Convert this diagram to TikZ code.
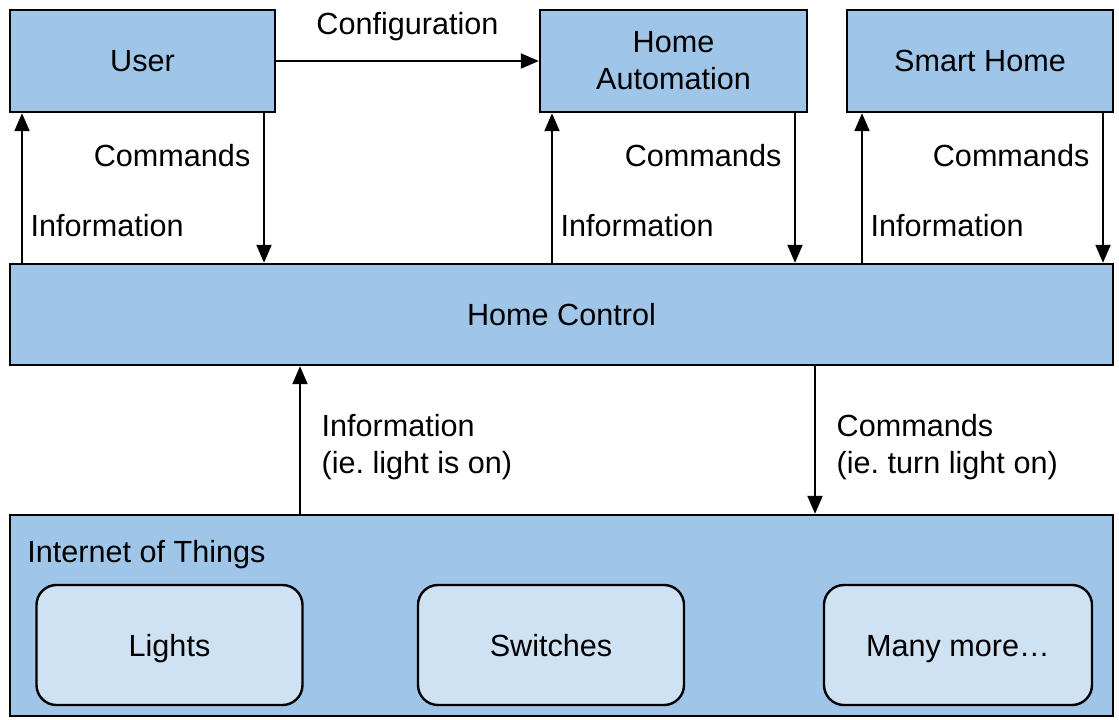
\documentclass[tikz,border=0pt]{standalone}
\usepackage{fontspec}
\setmainfont{Liberation Sans}
\frenchspacing
\usetikzlibrary{positioning,arrows.meta}
\definecolor{boxblue}{HTML}{9FC5E8}
\definecolor{thingblue}{HTML}{CFE2F3}
\tikzset{
  box/.style={draw=black, line width=1.2pt, fill=boxblue, inner sep=0pt,
    align=center, font=\fontsize{15.3}{18.5}\selectfont},
  thing/.style={box, fill=thingblue, rounded corners=10pt,
    text height=12pt, text depth=1pt,
    minimum width=133pt, minimum height=60pt},
  flow/.style={line width=1pt, draw=black, -{Triangle[length=9pt,width=7.5pt]}},
  lbl/.style={font=\fontsize{15.3}{18.5}\selectfont, align=left}
}

\begin{document}
\begin{tikzpicture}[x=0.5pt,y=-0.5pt]
  \useasboundingbox (0,0) rectangle (1119,719);
  % top row
  \node[box, minimum width=132.5pt, minimum height=51pt] (user) at (142.5,61) {User};
  \node[box, minimum width=133.5pt, minimum height=51pt] (auto) at (673.5,61) {Home\\Automation};
  \node[box, minimum width=133pt, minimum height=51pt] (smart) at (980,61) {Smart Home};
  % middle
  \node[box, minimum width=551.5pt, minimum height=50.5pt] (ctrl) at (561.5,314.5) {Home Control};
  % bottom
  \node[box, minimum width=551.5pt, minimum height=100.5pt] (iot) at (561.5,615.5) {};
  \node[lbl, anchor=base west, inner sep=0pt] (iotlbl) at (27,562) {Internet of Things};
  \node[thing] (lights) at (169.5,645) {Lights};
  \node[thing] (switch) at (551,645) {Switches};
  \node[thing, minimum width=134pt] (more) at (958,645) {Many more\ldots};

  \draw[flow] (user) -- node[lbl, above=6pt] {Configuration} (auto);

  % x positions of the vertical arrows
  \coordinate (up1) at (22,0);
  \coordinate (dn1) at (264,0);
  \coordinate (up2) at (552,0);
  \coordinate (dn2) at (795,0);
  \coordinate (up3) at (862,0);
  \coordinate (dn3) at (1103,0);
  \coordinate (up4) at (300,0);
  \coordinate (dn4) at (815,0);

  \draw[flow] (ctrl.north -| up1) -- node[lbl, pos=0.25, right=0.5pt] {Information} (user.south -| up1);
  \draw[flow] (user.south -| dn1) -- node[lbl, pos=0.28, left=3pt] {Commands} (ctrl.north -| dn1);
  \draw[flow] (ctrl.north -| up2) -- node[lbl, pos=0.25, right=0.5pt] {Information} (auto.south -| up2);
  \draw[flow] (auto.south -| dn2) -- node[lbl, pos=0.28, left=3pt] {Commands} (ctrl.north -| dn2);
  \draw[flow] (ctrl.north -| up3) -- node[lbl, pos=0.25, right=0.5pt] {Information} (smart.south -| up3);
  \draw[flow] (smart.south -| dn3) -- node[lbl, pos=0.28, left=3pt] {Commands} (ctrl.north -| dn3);

  \draw[flow] (iot.north -| up4) -- node[lbl, pos=0.45, right=7pt] {Information\\(ie. light is on)} (ctrl.south -| up4);
  \draw[flow] (ctrl.south -| dn4) -- node[lbl, pos=0.55, right=7pt] {Commands\\(ie. turn light on)} (iot.north -| dn4);
\end{tikzpicture}
\end{document}
